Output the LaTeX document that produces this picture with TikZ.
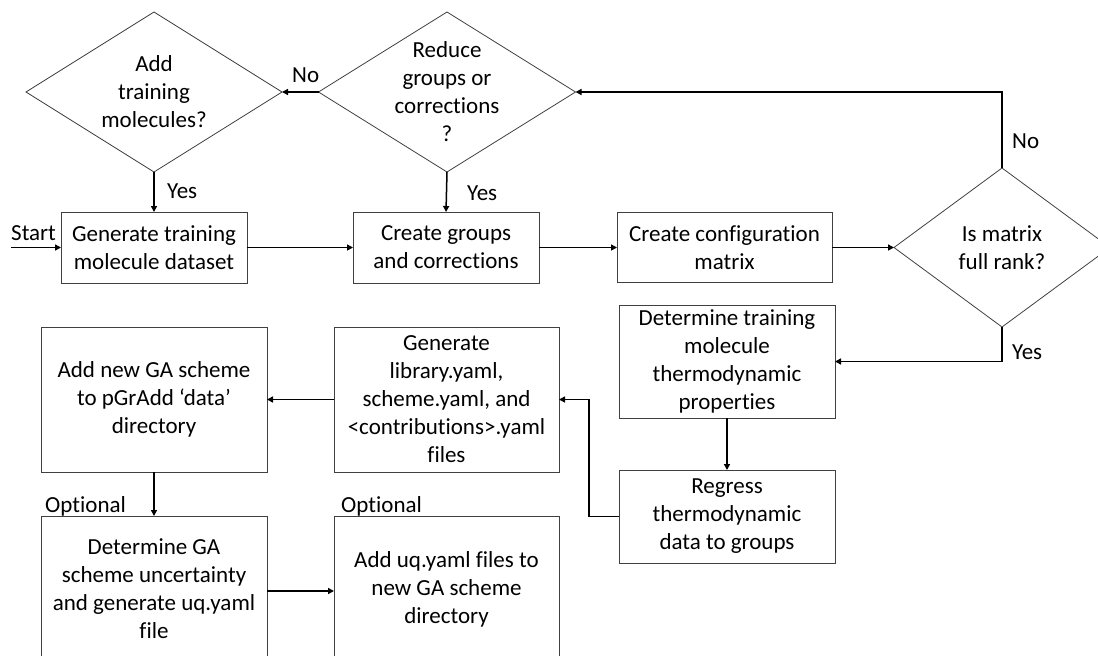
\documentclass[tikz,border=0pt]{standalone}
\usepackage{fontspec}
\setmainfont{Carlito}[Ligatures={NoCommon}]
\usetikzlibrary{arrows.meta,shapes.geometric}
\tikzset{
  every node/.style={font=\fontsize{23}{28}\selectfont, text=black},
  box/.style={draw=black!75, line width=0.8pt, rectangle, inner sep=0pt, outer sep=0pt, align=center},
  dia/.style={draw=black!75, line width=0.8pt, diamond, inner sep=0pt, outer sep=0pt},
  lbl/.style={inner sep=0pt, anchor=base west},
  arr/.style={line width=1.5pt, -{Triangle[length=6pt,width=6pt]}},
}
\begin{document}
\begin{tikzpicture}[x=1pt,y=-1pt]
\useasboundingbox (0,0) rectangle (1098,656);
% diamonds
\node[dia, minimum width=256, minimum height=160] (d1) at (154,92) {};
\node[align=center, inner sep=0pt] (d1t) at (d1.center) {Add\\training\\molecules?};
\node[dia, minimum width=257, minimum height=160] (d2) at (447,92) {};
\node[align=center, inner sep=0pt] (d2t) at (d2.center) {Reduce\\groups or\\corrections\\?};
\node[dia, minimum width=216, minimum height=159] (d3) at (1002,247.5) {};
\node[align=center, inner sep=0pt] (d3t) at (d3.center) {Is matrix\\full rank?};
% boxes
\node[box, minimum width=186, minimum height=71] (gen) at (154,247.5) {Generate training\\molecule dataset};
\node[box, minimum width=186, minimum height=71] (grp) at (446,247.5) {Create groups\\and corrections};
\node[box, minimum width=215, minimum height=70] (cfg) at (724.5,247.5) {Create configuration\\matrix};
\node[box, minimum width=216, minimum height=113] (det) at (727,361.5) {Determine training\\molecule\\thermodynamic\\properties};
\node[box, minimum width=216, minimum height=93] (reg) at (727,516.5) {Regress\\thermodynamic\\data to groups};
\node[box, minimum width=225, minimum height=145] (yaml) at (446.5,399.5) {Generate\\library.yaml,\\scheme.yaml, and\\<contributions>.yaml\\files};
\node[box, minimum width=226, minimum height=145] (add) at (154,399.5) {Add new GA scheme\\to pGrAdd ‘data’\\directory};
\node[box, minimum width=226, minimum height=146] (dga) at (154,589) {Determine GA\\scheme uncertainty\\and generate uq.yaml\\file};
\node[box, minimum width=225, minimum height=146] (uq) at (446.5,589) {Add uq.yaml files to\\new GA scheme\\directory};
% labels
\node[lbl] (start) at (11,240) {Start};
\node[lbl] (yes1) at (167,198) {Yes};
\node[lbl] (yes2) at (467,200) {Yes};
\node[lbl] (no1) at (292,82) {No};
\node[lbl] (no2) at (1012,148) {No};
\node[lbl] (yes3) at (1012,359) {Yes};
\node[lbl] (opt1) at (45,512) {Optional};
\node[lbl] (opt2) at (341,512) {Optional};
% connectors
\coordinate (s0) at (11,247.5);
\draw[arr] (s0) -- (gen.west);
\draw[arr] (d1.south) -- (gen.north);
\draw[arr] (d2.west) -- (d1.east);
\draw[arr] (d2.south) -- (grp.north);
\draw[arr] (gen.east) -- (grp.west);
\draw[arr] (grp.east) -- (cfg.west);
\draw[arr] (cfg.east) -- (d3.west);
\draw[arr] (d3.north) |- (d2.east);
\draw[arr] (d3.south) |- (det.east);
\draw[arr] (det.south) -- (reg.north);
\draw[arr] (reg.west) -- ++(-30,0) |- (yaml.east);
\draw[arr] (yaml.west) -- (add.east);
\draw[arr] (add.south) -- (dga.north);
\draw[arr] ([yshift=-2]dga.east) -- ([yshift=-2]uq.west);
\end{tikzpicture}
\end{document}
